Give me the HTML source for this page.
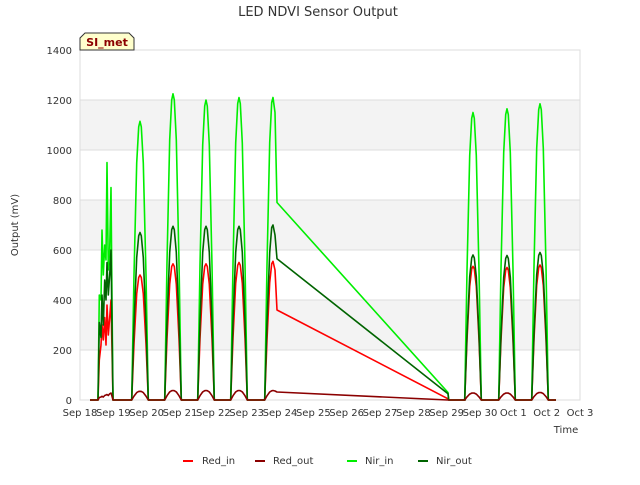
<!DOCTYPE html>
<html><head><meta charset="utf-8"><style>
body{margin:0;background:#fff;font-family:"Liberation Sans","DejaVu Sans",sans-serif}
</style></head><body>
<svg id="c" width="640" height="480" xmlns="http://www.w3.org/2000/svg" font-family="DejaVu Sans, Liberation Sans, sans-serif">
</svg>
<script>
const xTicks=["Sep 18","Sep 19","Sep 20","Sep 21","Sep 22","Sep 23","Sep 24","Sep 25","Sep 26","Sep 27","Sep 28","Sep 29","Sep 30","Oct 1","Oct 2","Oct 3"];
const yTicks=[0,200,400,600,800,1000,1200,1400];
const dayCenters=[1.8,2.79,3.78,4.77,11.79,12.81,13.8];
const nirInPeaks=[1115,1225,1200,1210,1150,1165,1185];
const nirOutPeaks=[670,695,695,695,580,578,590];
const redInPeaks=[500,545,545,550,535,530,540];
const redOutPeaks=[35,38,38,38,28,28,30];
const shapeOffsets=[-0.25,-0.18,-0.1,-0.04,0,0.04,0.1,0.18,0.25];
const shapeFrac=[0,0.45,0.85,0.98,1,0.98,0.85,0.45,0];
const d1T=[0.3,0.54,0.58,0.63,0.66,0.7,0.74,0.78,0.81,0.85,0.89,0.93,0.96,0.99];
const d1NirIn=[0,0,420,400,680,500,620,560,950,520,600,850,400,0];
const d1NirOut=[0,0,310,250,420,300,480,400,550,420,500,600,300,0];
const d1RedIn=[0,0,160,220,300,240,330,220,380,260,330,400,200,0];
const d1RedOut=[0,0,10,12,15,12,18,20,22,18,25,28,15,0];
const d6T=[5.54,5.61,5.69,5.75,5.79,5.85,5.91,11.04,11.06,11.55];
const d6NirIn=[0,540,1030,1190,1210,1150,790,30,0,0];
const d6NirOut=[0,310,590,690,700,660,565,25,0,0];
const d6RedIn=[0,240,470,545,555,520,360,5,0,0];
const d6RedOut=[0,17,32,37,38,36,32,0,0,0];

const X0=80,X1=580,Y0=400,Y1=50;
const xs=d=>X0+d*(X1-X0)/15, ys=v=>Y0-v*(Y0-Y1)/1400;
const svg=document.getElementById('c');const NS="http://www.w3.org/2000/svg";
function mk(tag,attrs,parent){const e=document.createElementNS(NS,tag);for(const k in attrs)e.setAttribute(k,attrs[k]);(parent||svg).appendChild(e);return e;}
for(let i=0;i<yTicks.length-1;i++){if(i%2==1){const r=mk('rect',{x:X0,y:ys(yTicks[i+1]),width:X1-X0,height:ys(yTicks[i])-ys(yTicks[i+1]),fill:'#f3f3f3'});

}}
yTicks.forEach(v=>{const l=mk('line',{x1:X0,x2:X1,y1:ys(v),y2:ys(v),stroke:'#dcdcdc'});


const t=mk('text',{x:X0-8,y:ys(v)+4,'text-anchor':'end','font-size':10,fill:'#333'});t.textContent=v;

});
const fr=mk('rect',{x:X0,y:Y1,width:X1-X0,height:Y0-Y1,fill:'none',stroke:'#ddd'});


xTicks.forEach((s,i)=>{const t=mk('text',{x:xs(i),y:Y0+16,'text-anchor':'middle','font-size':10,fill:'#333'});t.textContent=s;

});
function build(d1,d6,peaks){const pts=[];d1T.forEach((t,i)=>pts.push([t,d1[i]]));
dayCenters.forEach((c,k)=>{if(k==4){d6T.forEach((t,i)=>pts.push([t,d6[i]]));}
shapeOffsets.forEach((o,i)=>pts.push([c+o,peaks[k]*shapeFrac[i]]));});
pts.push([14.28,0]);return pts;}
const series=[["red-in-line","#ff0000",build(d1RedIn,d6RedIn,redInPeaks)],["nir-in-line","#00ee00",build(d1NirIn,d6NirIn,nirInPeaks)],["nir-out-line","#006400",build(d1NirOut,d6NirOut,nirOutPeaks)],["red-out-line","#8b0000",build(d1RedOut,d6RedOut,redOutPeaks)]];
series.forEach(([n,c,p])=>{const e=mk('polyline',{points:p.map(q=>xs(q[0]).toFixed(1)+','+ys(q[1]).toFixed(1)).join(' '),fill:'none',stroke:c,'stroke-width':1.6,'stroke-linejoin':'round'});

});
</script>
<svg width="640" height="480" style="position:absolute;left:0;top:0" font-family="DejaVu Sans, Liberation Sans, sans-serif">
<text x="318" y="16" text-anchor="middle" font-size="13" fill="#333">LED NDVI Sensor Output</text>
<text transform="translate(18,225) rotate(-90)" text-anchor="middle" font-size="10" fill="#333">Output (mV)</text>
<text x="566" y="433" text-anchor="middle" font-size="10" fill="#333">Time</text>
<g><path d="M80,50 L80,38 L85,33 L129,33 L134,38 L134,50 Z" fill="#ffffcc" stroke="#333"/><text x="107" y="46" text-anchor="middle" font-size="11" font-weight="bold" fill="#8b0000">SI_met</text></g>
<g font-size="10" fill="#333">
<g><line x1="183" x2="193" y1="461" y2="461" stroke="#ff0000" stroke-width="2"/><text x="202" y="464">Red_in</text></g>
<g><line x1="255" x2="265" y1="461" y2="461" stroke="#8b0000" stroke-width="2"/><text x="273" y="464">Red_out</text></g>
<g><line x1="347" x2="357" y1="461" y2="461" stroke="#00ee00" stroke-width="2"/><text x="365" y="464">Nir_in</text></g>
<g><line x1="418" x2="428" y1="461" y2="461" stroke="#006400" stroke-width="2"/><text x="436" y="464">Nir_out</text></g>
</g>
</svg>
</body></html>
